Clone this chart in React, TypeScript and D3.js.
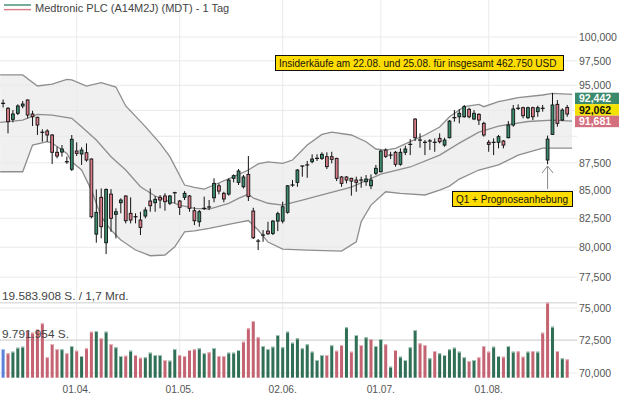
import * as d3 from "d3";

// trading days 0..115 (11.03. - 25.08.), prices in USD
const opens = [
  93.2, 92.71, 91.63, 92.22, 92.94, 93.53, 92.15, 91.83, 90.38, 90.5,
  90.12, 88.48, 88.5, 87.6, 86.9, 88.6, 88.32, 88.44, 87.85, 81.12,
  84.35, 80.38, 84.64, 82.84, 83.87, 84.47, 82.93, 82.63, 82.34, 82.69,
  84.02, 83.87, 84.35, 84.47, 83.82, 84.76, 84.02, 84.35, 84.47, 83.16,
  82.19, 83.37, 83.49, 84.31, 85.39, 84.71, 84.64, 86.07, 85.7, 85.3,
  86.43, 83.13, 80.52, 81.04, 81.38, 81.18, 82.25, 82.25, 83.02, 85.46,
  85.7, 87.2, 87.3, 87.6, 87.91, 87.91, 88.07, 88.07, 87.91, 86.19,
  86.19, 86.07, 85.91, 85.91, 85.76, 85.39, 86.53, 86.67, 88.69, 88.22,
  88.48, 87.36, 88.48, 89.23, 91.66, 89.64, 89.42, 89.55, 89.42, 89.8,
  89.16, 89.86, 91.79, 91.88, 91.88, 92.61, 91.66, 92.12, 91.24, 89.42,
  89.42, 89.42, 89.55, 89.86, 91.08, 92.71, 92.77, 91.79, 92.77, 92.38,
  92.71, 87.76, 90.18, 93.1, 91.56, 92.79,
];
const highs = [
  93.58, 92.84, 92.54, 93.1, 93.43, 93.6, 92.47, 91.88, 90.67, 90.67,
  90.21, 89.0, 89.16, 88.07, 90.12, 89.42, 88.95, 89.32, 87.91, 85.06,
  85.15, 85.15, 85.09, 83.37, 84.26, 84.53, 84.35, 82.93, 83.07, 83.46,
  85.15, 84.47, 84.56, 84.71, 84.56, 84.85, 84.11, 84.91, 84.56, 83.49,
  83.22, 84.41, 84.11, 86.07, 85.61, 84.85, 86.07, 86.43, 86.92, 86.37,
  88.13, 83.42, 80.7, 81.47, 82.19, 82.34, 83.07, 83.96, 85.46, 85.91,
  86.92, 87.25, 87.67, 88.29, 88.29, 88.48, 88.48, 88.53, 87.97, 86.28,
  86.28, 86.12, 86.22, 86.22, 86.37, 86.43, 87.3, 88.69, 88.85, 88.53,
  88.6, 88.85, 89.1, 89.73, 91.73, 90.28, 89.64, 89.73, 89.8, 90.28,
  89.86, 91.56, 92.54, 92.64, 93.04, 92.77, 92.54, 92.22, 91.4, 89.64,
  89.8, 90.12, 89.64, 91.46, 93.04, 93.1, 92.87, 92.87, 92.87, 92.97,
  93.04, 90.06, 94.23, 93.53, 92.71, 93.04,
];
const lows = [
  92.79, 90.28, 91.34, 92.05, 92.71, 91.73, 90.98, 90.12, 89.48, 89.48,
  87.39, 87.92, 88.07, 87.39, 86.74, 88.13, 87.3, 87.6, 82.49, 80.38,
  80.76, 79.42, 81.32, 80.76, 82.93, 82.05, 82.05, 82.05, 81.04, 82.49,
  83.07, 83.07, 83.37, 83.16, 83.66, 83.82, 82.78, 84.11, 83.07, 81.9,
  81.76, 83.22, 83.22, 83.91, 84.62, 83.91, 84.5, 85.7, 85.46, 85.15,
  84.02, 80.7, 79.76, 80.46, 81.04, 81.04, 81.38, 82.05, 82.9, 85.3,
  85.3, 86.22, 86.12, 87.45, 87.67, 87.76, 86.92, 87.45, 85.82, 85.3,
  85.61, 84.5, 84.85, 85.21, 85.39, 85.09, 86.37, 86.62, 87.95, 87.85,
  87.14, 87.23, 88.22, 88.22, 89.55, 88.91, 88.22, 88.69, 88.53, 89.32,
  89.0, 89.8, 91.4, 91.24, 91.79, 91.73, 91.56, 91.08, 89.96, 88.53,
  88.22, 88.85, 88.85, 89.8, 90.92, 92.54, 91.73, 91.66, 91.56, 91.88,
  92.38, 87.36, 90.12, 90.92, 91.46, 91.88,
];
const closes = [
  93.2, 91.4, 92.15, 92.94, 93.13, 92.05, 91.88, 91.08, 90.38, 90.12,
  88.48, 88.13, 88.79, 87.6, 89.71, 88.38, 88.69, 87.76, 82.63, 83.02,
  81.76, 85.06, 82.49, 83.07, 84.11, 82.28, 82.34, 82.63, 81.7, 83.22,
  83.6, 84.17, 84.11, 83.96, 84.47, 84.76, 83.46, 84.71, 83.37, 82.28,
  83.07, 83.37, 83.49, 85.61, 84.91, 84.2, 85.91, 86.31, 86.74, 86.19,
  84.41, 80.81, 80.52, 81.04, 81.15, 82.25, 82.9, 83.51, 85.39, 85.46,
  86.83, 87.2, 87.3, 87.85, 87.91, 88.29, 87.14, 87.82, 86.07, 85.61,
  85.91, 85.82, 85.7, 85.91, 86.0, 85.91, 86.99, 88.6, 88.1, 88.22,
  87.36, 88.48, 88.79, 89.23, 89.86, 89.64, 89.42, 89.55, 89.42, 89.48,
  89.64, 91.46, 91.79, 92.22, 92.87, 91.88, 92.22, 91.56, 90.12, 89.23,
  89.42, 89.96, 89.16, 91.08, 92.64, 92.71, 91.98, 92.77, 91.88, 92.77,
  92.71, 89.73, 93.04, 91.24, 92.54, 92.15,
];
// volume in million shares
const volumes = [
  7.49, 6.37, 6.79, 7.83, 8.09, 12.27, 11.75, 12.72, 14.2, 5.33,
  8.8, 7.49, 7.41, 6.37, 8.28, 7.05, 5.67, 7.68, 12.01, 12.19,
  10.29, 12.01, 8.8, 7.94, 5.67, 5.74, 7.05, 5.93, 5.22, 5.33,
  6.53, 5.93, 5.93, 4.62, 4.44, 7.49, 5.93, 5.67, 7.23, 7.41,
  7.68, 6.37, 6.63, 7.75, 5.67, 5.67, 6.53, 6.53, 7.23, 9.4,
  12.9, 14.8, 10.55, 8.28, 7.49, 8.09, 11.15, 7.94, 12.01, 9.14,
  10.29, 7.68, 8.72, 6.79, 4.62, 5.93, 5.93, 8.46, 7.05, 8.54,
  13.16, 6.79, 11.15, 8.54, 10.55, 10.1, 8.28, 10.1, 8.72, 2.87,
  7.23, 5.48, 4.62, 7.94, 12.45, 8.98, 8.54, 5.07, 6.97, 6.37,
  5.93, 7.41, 7.83, 6.79, 5.33, 4.36, 4.62, 5.33, 8.28, 6.79,
  8.09, 5.67, 5.48, 8.28, 6.79, 6.89, 5.48, 6.79, 6.97, 6.79,
  11.75, 19.583908, 13.32, 6.97, 5.07, 4.8,
];
const volDir = (
  "brgggrrrrr" + "rrgrgrgrrg" + "rgrggrgrrg" + "gggrggrrrr" + "ggrgrrgggr" +
  "rrrggggggg" + "ggggggrgrr" + "grgrgrggrg" + "rggggrrgrg" + "gggggrgrrr" +
  "ggrggrrgrg" + "rrgrgr"
).split("");

// Bollinger band as drawn (day index, price)
const upperDays = [-0.6, 4, 7, 10, 13, 14, 17, 20, 23, 25, 29, 32, 34, 37, 39, 41, 43, 47, 50, 52, 54, 57, 59, 62, 65, 67, 71, 74, 76, 78, 80, 83, 86, 89, 91, 94, 97, 98, 101, 105, 110, 112, 116];
const upperBand = [96.05, 96.05, 94.93, 95.13, 95.61, 95.54, 94.93, 95.27, 94.83, 92.94, 90.92, 89.32, 88.07, 85.46, 85.24, 85.09, 85.46, 86.22, 86.83, 87.39, 87.58, 87.45, 87.76, 89.16, 90.18, 90.4, 90.12, 89.48, 88.79, 88.69, 88.85, 89.48, 90.12, 90.89, 91.88, 92.87, 93.1, 92.87, 93.36, 93.76, 94.03, 94.19, 94.09];
const middleDays = [-0.6, 4, 7, 10, 14, 16, 19, 22, 25, 28, 31, 34, 36, 39, 42, 46, 48, 50, 51, 54, 57, 61, 65, 71, 77, 83, 89, 93, 97, 101, 107, 112, 116];
const middleBand = [91.34, 91.56, 92.12, 92.05, 91.73, 90.92, 89.64, 88.07, 86.83, 85.3, 84.47, 83.96, 83.66, 83.37, 83.31, 83.82, 84.26, 84.64, 84.29, 83.82, 83.66, 84.11, 84.56, 85.27, 86.45, 87.11, 88.22, 89.35, 90.4, 90.98, 91.42, 91.56, 91.46];
const lowerDays = [-0.6, 4, 6, 9, 10, 13, 14, 16, 18, 20, 22, 24, 27, 30, 33, 35, 37, 39, 42, 47, 50, 52, 54, 57, 62, 69, 72, 73, 75, 78, 81, 86, 89, 91, 93, 97, 101, 105, 110, 116];
const lowerBand = [86.67, 86.67, 89.16, 89.48, 89.35, 88.38, 87.6, 86.83, 85.0, 82.63, 81.47, 80.61, 79.76, 79.28, 79.34, 80.04, 81.32, 81.4, 81.61, 82.05, 82.3, 81.47, 80.44, 79.84, 79.76, 79.67, 80.46, 82.19, 83.66, 84.85, 84.71, 84.56, 85.0, 85.36, 86.0, 86.83, 87.3, 88.22, 88.88, 88.88];

const tickDays = [15, 36, 57, 77, 99];
const tickLabels = ["01.04.", "01.05.", "02.06.", "01.07.", "01.08."];
const priceTicks = [100, 97.5, 95, 92.5, 90, 87.5, 85, 82.5, 80, 77.5, 75, 72.5, 70];
const hiddenLabels = [92.5, 90];
const quoteValues = [92.442, 92.062, 91.681];
const quoteColors = ["#3a8a6b", "#f4e200", "#d4707e"];
const quoteText = ["#fff", "#111", "#fff"];

const title = "Medtronic PLC (A14M2J) (MDT) - 1 Tag";
const insiderNote = "Insiderkäufe am 22.08. und 25.08. für insgesamt 462.750 USD";
const q1Note = "Q1 + Prognoseanhebung";
const q1Day = 111;
const turnover = "1,7 Mrd.";

const W = 619;
const H = 398;
const FONT = "'Liberation Sans', Arial, sans-serif";
const UP = "#3b8c6c";
const DOWN = "#db7b87";
const VOL_UP = "#2f6f55";
const VOL_DOWN = "#c46371";

const de = d3.formatLocale({ decimal: ",", thousands: ".", grouping: [3], currency: ["", ""] });

export default function App() {
  const x = d3.scaleLinear().domain([0, 115]).range([3.1, 567.2]);
  const y = d3.scaleLog().domain([70, 100]).range([373, 37]);
  const vMax = d3.max(volumes) as number;
  const yv = d3.scaleLinear().domain([0, vMax]).range([377.7, 302.7]);
  const priceFmt = (v: number) => d3.format(".3f")(v).replace(".", ",");
  const volFmt = (v: number) => de.format(",d")(Math.round(v * 1e6));

  const line = d3.line<[number, number]>();
  const up = upperDays.map((d, i) => [x(d), y(upperBand[i])] as [number, number]);
  const lo = lowerDays.map((d, i) => [x(d), y(lowerBand[i])] as [number, number]);
  const mid = middleDays.map((d, i) => [x(d), y(middleBand[i])] as [number, number]);
  const bandFill = (line([...up, ...lo.slice().reverse()]) ?? "") + "Z";

  const yc = y(quoteValues[1]) - 5;
  const boxH = 11.5;

  return (
    <svg width={W} height={H} style={{ display: "block", position: "absolute", left: 0, top: 0, background: "#fff" }} fontFamily={FONT}>
      <rect width={W} height={H} fill="#fff" />
      <path d={bandFill} fill="#f0f0f0" />
      {priceTicks.map((t) => (
        <line key={"h" + t} x1={0} x2={577} y1={y(t)} y2={y(t)} stroke="#e9e9e9" strokeWidth={1} />
      ))}
      {tickDays.map((d) => (
        <line key={"v" + d} x1={x(d)} x2={x(d)} y1={0} y2={380} stroke="#ebebeb" strokeWidth={1} />
      ))}
      <line x1={0} x2={577} y1={yv(vMax)} y2={yv(vMax)} stroke="#dedede" strokeWidth={1.6} />
      <line x1={0} x2={577} y1={yv(vMax / 2)} y2={yv(vMax / 2)} stroke="#dedede" strokeWidth={1.6} />

      <path d={line(up) ?? ""} fill="none" stroke="#8e8e8e" strokeWidth={1.3} />
      <path d={line(mid) ?? ""} fill="none" stroke="#8e8e8e" strokeWidth={1.3} />
      <path d={line(lo) ?? ""} fill="none" stroke="#8e8e8e" strokeWidth={1.3} />

      {volumes.map((v, i) => {
        const dir = volDir[i];
        const fill = dir === "g" ? VOL_UP : dir === "r" ? VOL_DOWN : "#5b82d6";
        const cap = dir === "g" ? "#a9cbbb" : dir === "r" ? "#eab7be" : "#b3c6ee";
        const top = yv(v);
        return (
          <g key={"vb" + i}>
            <rect x={x(i) - 1.5} y={top} width={3} height={yv(0) - top} fill={fill} />
            <rect x={x(i) - 1.5} y={top} width={3} height={1} fill={cap} />
          </g>
        );
      })}
      <text x={2} y={300} fontSize={11.8} fill="#444">{volFmt(vMax)} S. / {turnover}</text>
      <text x={2} y={337.5} fontSize={11.8} fill="#444">{volFmt(vMax / 2)} S.</text>

      {opens.map((o, i) => {
        const c = closes[i];
        const cx = x(i);
        const t = y(Math.max(o, c));
        const b = y(Math.min(o, c));
        const doji = b - t < 1;
        return (
          <g key={"c" + i}>
            <line x1={cx} x2={cx} y1={y(highs[i])} y2={y(lows[i])} stroke="#111" strokeWidth={1} />
            {doji ? (
              <line x1={cx - 2} x2={cx + 2} y1={t} y2={t} stroke="#111" strokeWidth={1.2} />
            ) : (
              <rect x={cx - 1.4} y={t} width={2.8} height={b - t} fill={c >= o ? UP : DOWN} stroke="#111" strokeWidth={0.9} />
            )}
          </g>
        );
      })}

      {priceTicks.filter((t) => !hiddenLabels.includes(t)).map((t) => (
        <text key={"l" + t} x={579} y={y(t) + 4} fontSize={10.5} fill="#555">{priceFmt(t)}</text>
      ))}
      {quoteValues.map((v, i) => {
        const top = yc - boxH / 2 + (i - 1) * boxH;
        return (
          <g key={"q" + i}>
            <rect x={575} y={top} width={44} height={boxH} fill={quoteColors[i]} />
            <text x={579} y={top + boxH / 2 + 4} fontSize={10.5} fontWeight="bold" fill={quoteText[i]}>{priceFmt(v)}</text>
          </g>
        );
      })}

      <rect x={275.5} y={55.5} width={288} height={15} fill="#ffdd00" stroke="#111" strokeWidth={1} />
      <text x={279} y={66.5} fontSize={10} fill="#111">{insiderNote}</text>

      <line x1={x(q1Day)} x2={x(q1Day)} y1={189} y2={166} stroke="#888" strokeWidth={1} />
      <path d={`M${x(q1Day) - 5.5},173 L${x(q1Day)},166 L${x(q1Day) + 5.5},173`} fill="none" stroke="#888" strokeWidth={1} />
      <rect x={452.5} y={191.5} width={120} height={15} fill="#ffdd00" stroke="#111" strokeWidth={1} />
      <text x={456} y={202.5} fontSize={10} fill="#111">{q1Note}</text>

      {tickDays.map((d, i) => (
        <text key={"x" + d} x={x(d)} y={393} fontSize={10.2} fill="#555" textAnchor="middle">{tickLabels[i]}</text>
      ))}

      <line x1={4} x2={31} y1={5} y2={5} stroke={UP} strokeWidth={1.4} />
      <line x1={4} x2={31} y1={9.6} y2={9.6} stroke={DOWN} strokeWidth={1.4} />
      <text x={35} y={12} fontSize={11} fill="#444">{title}</text>
    </svg>
  );
}
